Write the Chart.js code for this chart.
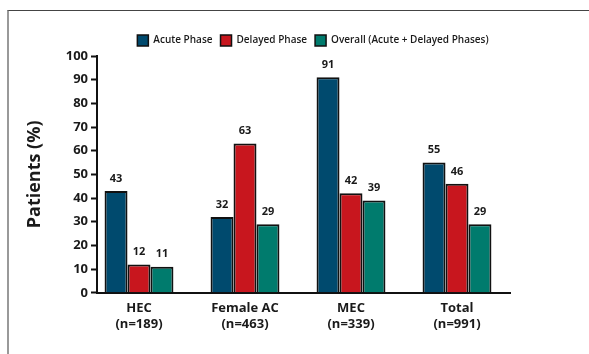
<!DOCTYPE html>
<html>
<head>
<meta charset="utf-8">
<script src="https://cdn.jsdelivr.net/npm/chart.js@4"></script>
<style>
  body { margin: 0; background: #fff; }
  #wrap { position: relative; width: 589px; height: 354px; }
  #frame { position: absolute; left: 7px; top: 10px; right: 0; bottom: 0;
           border-top: 1px solid #444; border-left: 2px solid #999; }
  canvas { position: absolute; left: 0; top: 0; }
</style>
</head>
<body>
<div id="wrap">
  <div id="frame"></div>
  <canvas id="grafico" width="589" height="354"></canvas>
</div>
<script>
// Categorias e séries
const categorias = [['HEC', '(n=189)'], ['Female AC', '(n=463)'], ['MEC', '(n=339)'], ['Total', '(n=991)']];
const faseAguda = [43, 32, 91, 55];
const faseTardia = [12, 63, 42, 46];
const geral = [11, 29, 39, 29];
const nomesSeries = ['Acute Phase', 'Delayed Phase', 'Overall (Acute + Delayed Phases)'];
const ticksY = [0, 10, 20, 30, 40, 50, 60, 70, 80, 90, 100];

const fonte = '"Open Sans", "DejaVu Sans", sans-serif';

// Rótulos de valor acima das barras
const rotulosPlugin = {
  id: 'rotulos',
  afterDatasetsDraw(chart) {
    const ctx = chart.ctx;
    ctx.save();
    ctx.font = '700 11px ' + fonte;
    ctx.fillStyle = '#1a1a1a';
    ctx.textAlign = 'center';
    ctx.textBaseline = 'bottom';
    chart.data.datasets.forEach((ds, i) => {
      chart.getDatasetMeta(i).data.forEach((bar, j) => {
        ctx.fillText(ds.data[j], bar.x, bar.y - 7);
      });
    });
    ctx.restore();
  }
};

// Desloca as categorias um pouco para a esquerda e a legenda para a direita
const deslocaPlugin = {
  id: 'desloca',
  afterLayout(chart) {
    const x = chart.scales.x;
    x._startPixel = chart.chartArea.left - 11;
    x._length = chart.chartArea.right - x._startPixel;
    const leg = chart.legend;
    leg.left += 58;
    leg.right += 58;
  }
};

new Chart(document.getElementById('grafico'), {
  type: 'bar',
  data: {
    labels: categorias,
    datasets: [
      { label: nomesSeries[0], data: faseAguda, backgroundColor: '#004a6e' },
      { label: nomesSeries[1], data: faseTardia, backgroundColor: '#c8161e' },
      { label: nomesSeries[2], data: geral, backgroundColor: '#007b6d' }
    ]
  },
  options: {
    responsive: false,
    animation: false,
    devicePixelRatio: 1,
    datasets: {
      bar: {
        borderColor: '#111',
        borderWidth: 2,
        borderSkipped: 'bottom',
        barPercentage: 1.0,
        categoryPercentage: 0.65
      }
    },
    layout: { padding: { top: 27, right: 79, bottom: 14, left: 0 } },
    plugins: {
      tooltip: { enabled: false },
      legend: {
        position: 'top',
        labels: {
          boxWidth: 11,
          boxHeight: 11,
          padding: 8,
          color: '#1a1a1a',
          font: { family: fonte, size: 10, weight: '600' },
          generateLabels(chart) {
            return chart.data.datasets.map((ds, i) => ({
              text: ds.label,
              fillStyle: ds.backgroundColor,
              strokeStyle: '#111',
              lineWidth: 1.5,
              datasetIndex: i,
              fontColor: '#1a1a1a'
            }));
          }
        }
      }
    },
    scales: {
      x: {
        grid: { display: false, drawTicks: false },
        border: { display: true, color: '#111', width: 2 },
        ticks: {
          color: '#1a1a1a',
          padding: 8,
          font: { family: fonte, size: 13, weight: '700' }
        }
      },
      y: {
        min: 0,
        max: 100,
        afterBuildTicks(scale) {
          scale.ticks = ticksY.map(v => ({ value: v }));
        },
        afterFit(scale) { scale.width = 97; },
        grid: {
          drawOnChartArea: false,
          drawTicks: true,
          tickLength: 6,
          tickWidth: 2,
          tickColor: '#111'
        },
        border: { display: true, color: '#111', width: 2 },
        ticks: {
          color: '#1a1a1a',
          padding: 3,
          font: { family: fonte, size: 13, weight: '700' }
        },
        title: {
          display: true,
          text: 'Patients (%)',
          color: '#1a1a1a',
          padding: { top: 24, bottom: 0 },
          font: { family: fonte, size: 18, weight: '700' }
        }
      }
    }
  },
  plugins: [rotulosPlugin, deslocaPlugin]
});
</script>
</body>
</html>
